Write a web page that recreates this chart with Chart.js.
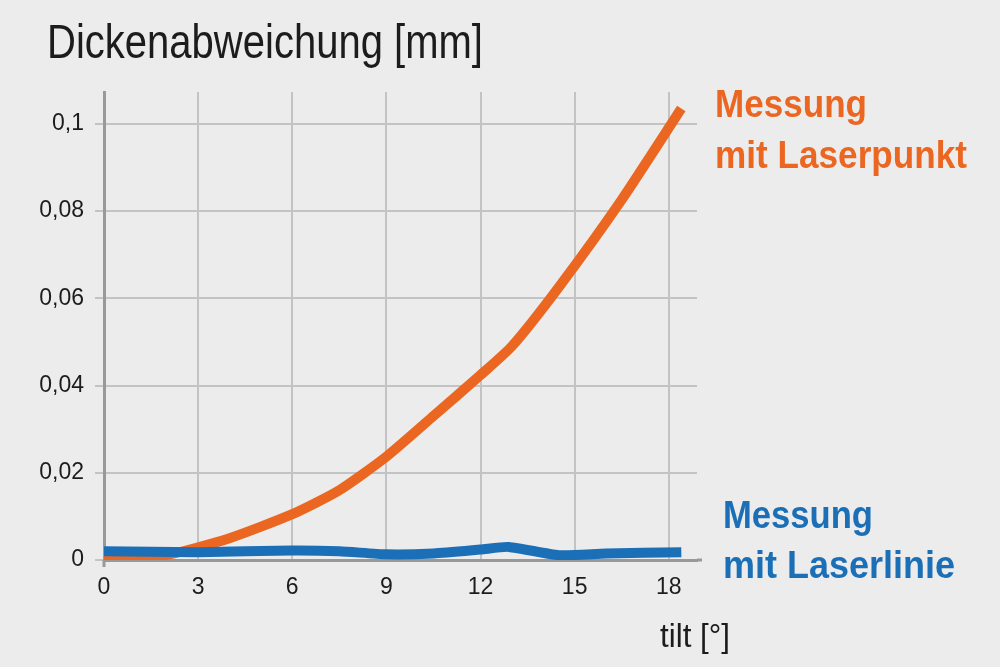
<!DOCTYPE html>
<html>
<head>
<meta charset="utf-8">
<script src="https://cdn.jsdelivr.net/npm/chart.js@4.4.1/dist/chart.umd.min.js"></script>
<style>
  html, body { margin: 0; padding: 0; background: #ececec; }
  #wrap { position: relative; width: 1000px; height: 667px; overflow: hidden; }
  #chart { position: absolute; left: 0; top: 0; }
  .txt {
    position: absolute; white-space: nowrap; line-height: 1;
    font-family: "Liberation Sans Narrow", "Liberation Sans", Arial, sans-serif;
    transform-origin: 0 0;
  }
  .orange { color: #eb6721; font-weight: bold; }
  .blue { color: #1b6fb6; font-weight: bold; }
  .dark { color: #1c1c1c; }
</style>
</head>
<body>
<div id="wrap">
  <canvas id="chart" width="1000" height="667"></canvas>
  <div class="txt dark" data-x="47" data-base="58" data-size="49" data-w="436">Dickenabweichung [mm]</div>
  <div class="txt orange" data-x="715" data-base="117" data-size="38" data-w="152">Messung</div>
  <div class="txt orange" data-x="715" data-base="168" data-size="38" data-w="252">mit Laserpunkt</div>
  <div class="txt blue" data-x="723" data-base="528" data-size="38" data-w="150">Messung</div>
  <div class="txt blue" data-x="723" data-base="578" data-size="38" data-w="232">mit Laserlinie</div>
  <div class="txt dark" data-x="660" data-base="647" data-size="33" data-w="70">tilt [°]</div>
</div>
<script>
// values
const tiltPunkt = [0, 2, 4, 6, 7.5, 9, 10.5, 12, 13, 14.5, 16.5, 18.4];
const abwPunkt = [0.0005, 0.0012, 0.005, 0.0105, 0.016, 0.0237, 0.033, 0.0424, 0.049, 0.0626, 0.0826, 0.1035];
const tiltLinie = [0, 3, 6, 7.5, 9, 10.5, 12, 12.9, 14.5, 16, 18.4];
const abwLinie = [0.002, 0.0018, 0.0022, 0.002, 0.0013, 0.0015, 0.0024, 0.003, 0.0011, 0.0015, 0.0018];
const xTicks = [0, 3, 6, 9, 12, 15, 18];
const yTicks = [0, 0.02, 0.04, 0.06, 0.08, 0.1];

const toPoints = (xs, ys) => xs.map((x, i) => ({ x: x, y: ys[i] }));

// place the text labels and squeeze them to the measured widths
document.querySelectorAll('.txt').forEach((el) => {
  const size = +el.dataset.size;
  el.style.fontSize = size + 'px';
  el.style.left = el.dataset.x + 'px';
  el.style.top = (+el.dataset.base - 0.8465 * size) + 'px';
  const w = el.getBoundingClientRect().width;
  el.style.transform = 'scaleX(' + (+el.dataset.w / w) + ')';
});

// axis lines run a little past the corner, like in the original
const axisOverhang = {
  id: 'axisOverhang',
  afterDraw(chart) {
    const { ctx, chartArea } = chart;
    ctx.save();
    ctx.strokeStyle = '#999999';
    ctx.lineWidth = 3;
    ctx.beginPath();
    ctx.moveTo(chartArea.left, chartArea.bottom);
    ctx.lineTo(chartArea.left, chartArea.bottom + 7);
    ctx.moveTo(chartArea.right, chartArea.bottom);
    ctx.lineTo(chartArea.right + 5, chartArea.bottom);
    ctx.stroke();
    ctx.restore();
  },
};

const tickFont = { family: '"Liberation Sans", Arial, sans-serif', size: 23 };

new Chart(document.getElementById('chart').getContext('2d'), {
  type: 'line',
  data: {
    datasets: [
      {
        label: 'Messung mit Laserlinie',
        data: toPoints(tiltLinie, abwLinie),
        borderColor: '#1b6fb6',
        borderWidth: 10,
        pointRadius: 0,
        borderCapStyle: 'butt',
        borderJoinStyle: 'round',
        tension: 0.2,
      },
      {
        label: 'Messung mit Laserpunkt',
        data: toPoints(tiltPunkt, abwPunkt),
        borderColor: '#eb6721',
        borderWidth: 10,
        pointRadius: 0,
        borderCapStyle: 'butt',
        borderJoinStyle: 'round',
        tension: 0.2,
      },
    ],
  },
  options: {
    responsive: false,
    animation: false,
    layout: { padding: { left: 0, right: 303, top: 92, bottom: 0 } },
    scales: {
      x: {
        type: 'linear',
        min: 0,
        max: 18.9,
        afterBuildTicks: (axis) => { axis.ticks = xTicks.map((v) => ({ value: v })); },
        afterFit: (axis) => { axis.height = 107; },
        grid: { color: '#c3c3c3', lineWidth: 2, tickLength: 0 },
        border: { color: '#999999', width: 3 },
        ticks: { color: '#1c1c1c', font: tickFont, padding: 14, maxRotation: 0 },
      },
      y: {
        min: 0,
        max: 0.1073,
        afterBuildTicks: (axis) => { axis.ticks = yTicks.map((v) => ({ value: v })); },
        afterFit: (axis) => { axis.width = 104; },
        grid: { color: '#c3c3c3', lineWidth: 2, tickLength: 9 },
        border: { color: '#999999', width: 3 },
        ticks: {
          color: '#1c1c1c',
          font: tickFont,
          padding: 11,
          callback: (v) => String(v).replace('.', ','),
        },
      },
    },
    plugins: {
      legend: { display: false },
      tooltip: { enabled: false },
    },
  },
  plugins: [axisOverhang],
});
</script>
</body>
</html>
